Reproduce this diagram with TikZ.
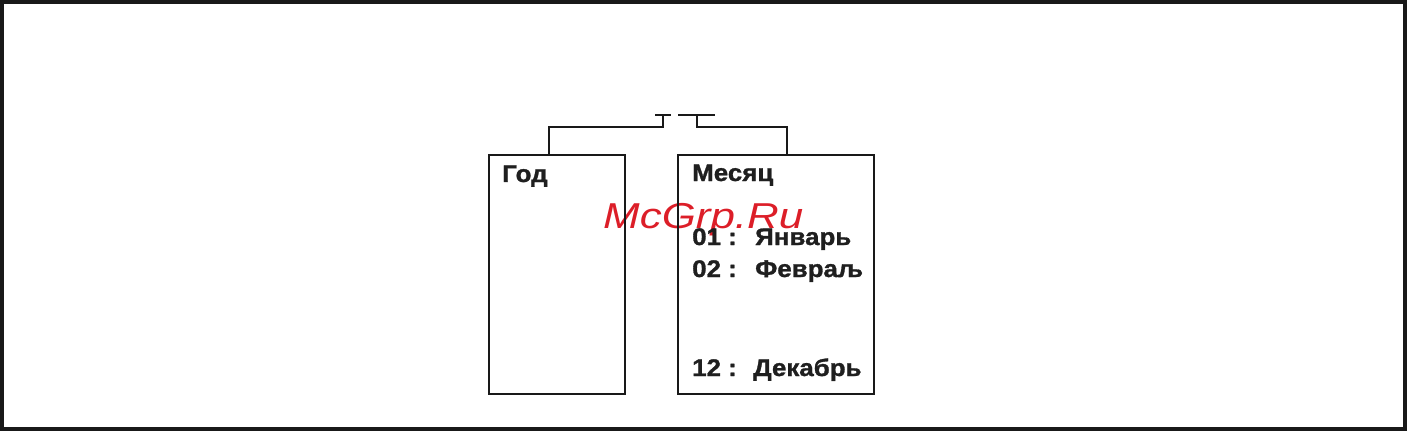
\documentclass[tikz,border=0pt]{standalone}
\usepackage{fontspec}
\setmainfont{Liberation Sans}
\newfontfamily\lblfont[FakeStretch=1.08,BoldFeatures={FakeBold=1.2}]{Liberation Sans}
\newfontfamily\wmfont[FakeStretch=1.22]{Liberation Sans}
\begin{document}
\begin{tikzpicture}[x=1pt,y=-1pt,
  box/.style={draw=black!90, line width=1.8pt, anchor=north west, inner sep=0pt},
  wire/.style={draw=black!90, line width=1.8pt},
  lbl/.style={anchor=base west, inner sep=0pt, font=\lblfont\bfseries\fontsize{24}{26}\selectfont, text=black!88},
  wm/.style={anchor=base west, inner sep=0pt, font=\wmfont\itshape\fontsize{36}{38}\selectfont, text={rgb,255:red,220;green,30;blue,40}}]
\useasboundingbox (0,0) rectangle (1407,431);
% watermark (behind the drawing)
\node[wm] (wmark) at (603,228) {McGrp.Ru};
\draw[line width=4pt, draw=black!90] (2,2) rectangle (1405,429);
% boxes
\node[box, minimum width=136pt, minimum height=239pt] (god) at (488,154) {};
\node[box, minimum width=196pt, minimum height=239pt] (mes) at (677,154) {};
% connector coordinates
\coordinate (gtop) at (549,154);
\coordinate (mtop) at (787,154);
\coordinate (lj) at (663,127);
\coordinate (lt) at (663,115);
\coordinate (tl) at (655,115);
\coordinate (tr) at (671,115);
\coordinate (rj) at (697,127);
\coordinate (rt) at (697,115);
\coordinate (bl) at (678,115);
\coordinate (br) at (715,115);
\draw[wire] (gtop) |- (lj) -- (lt);
\draw[wire] (tl) -- (tr);
\draw[wire] (mtop) |- (rj) -- (rt);
\draw[wire] (bl) -- (br);
% labels
\node[lbl] (tgod) at (502,182) {Год};
\node[lbl] (tmes) at (692,181) {Месяц};
\node[lbl] (t01) at (692,245) {01 :};
\node[lbl] (t01m) at (755,245) {Январь};
\node[lbl] (t02) at (692,277) {02 :};
\node[lbl] (t02m) at (755,277) {Февраљ};
\node[lbl] (t12) at (692,376) {12 :};
\node[lbl] (t12m) at (753,376) {Декабрь};
\end{tikzpicture}
\end{document}
